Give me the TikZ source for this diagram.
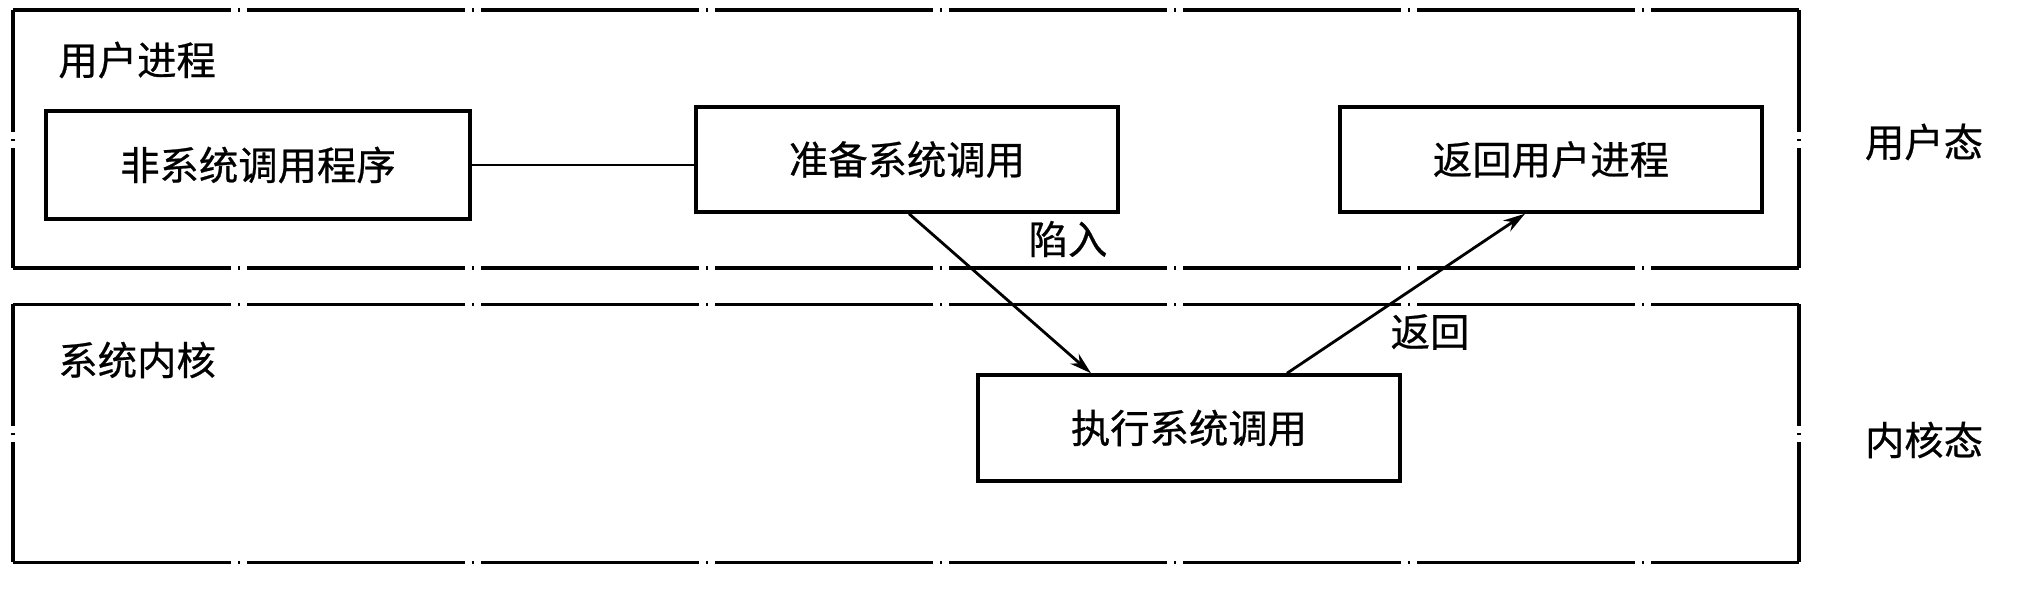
\documentclass[tikz,border=0pt]{standalone}
\usepackage{fontspec}
\setmainfont{Noto Sans CJK SC}[FakeBold=0.6]
\usetikzlibrary{arrows.meta}

\begin{document}
\begin{tikzpicture}[font=\fontsize{11.2}{13}\selectfont,
  box/.style={draw, line width=1pt, minimum width=4.22cm, minimum height=1.05cm, inner sep=0pt},
  zone/.style={minimum width=17.86cm, minimum height=2.58cm, inner sep=0pt, outer sep=0pt},
  hline/.style={line width=1.1pt, dash pattern=on 2.18cm off .07cm on .02cm off .07cm},
  vline/.style={line width=1.1pt, dash pattern=on 1.22cm off .07cm on .02cm off .07cm},
  flow/.style={line width=.8pt, -{Stealth[length=2.2mm,width=1.3mm]}}]
  \useasboundingbox (0,0) rectangle (20.18,-5.90);

  \node[zone] (user) at (9.06,-1.39) {};
  \node[zone] (kern) at (9.06,-4.335) {};
  \foreach \z in {user,kern} {
    \draw[hline] (\z.north west) -- (\z.north east);
    \draw[hline] (\z.south west) -- (\z.south east);
    \draw[vline] (\z.north west) -- (\z.south west);
    \draw[vline] (\z.north east) -- (\z.south east);
  }

  \node[anchor=west] (userlbl) at (0.46,-0.60) {用户进程};
  \node[anchor=west] (kernlbl) at (0.46,-3.60) {系统内核};

  \node[box, minimum width=4.24cm, minimum height=1.08cm] (nonsys) at (2.58,-1.65) {非系统调用程序};
  \node[box] (prep) at (9.07,-1.595) {准备系统调用};
  \node[box] (back) at (15.51,-1.595) {返回用户进程};
  \node[box, minimum height=1.06cm] (exec) at (11.89,-4.28) {执行系统调用};

  \node (umode) at (19.24,-1.42) {用户态};
  \node (kmode) at (19.24,-4.40) {内核态};

  \draw[line width=.8pt] (nonsys.east) -- (nonsys.east -| prep.west);
  \draw[flow] ([xshift=.02cm]prep.south) -- ([xshift=-.98cm]exec.north);
  \node (trap) at (10.68,-2.39) {陷入};
  \draw[flow] ([xshift=.98cm]exec.north) -- ([xshift=-.26cm]back.south);
  \node (rtn) at (14.30,-3.32) {返回};
\end{tikzpicture}
\end{document}
